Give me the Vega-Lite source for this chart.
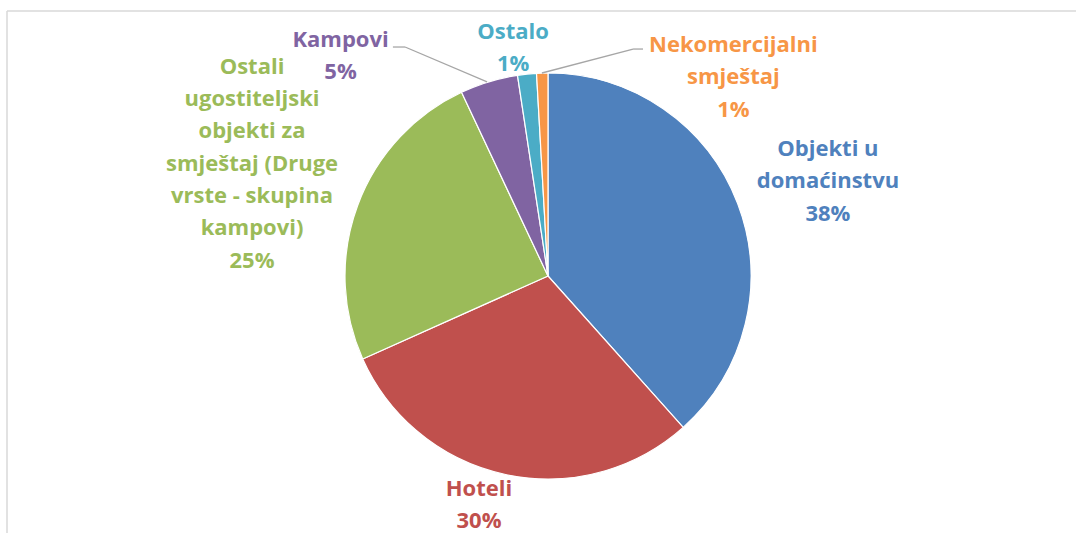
{
  "$schema": "https://vega.github.io/schema/vega-lite/v6.json",
  "width": 1076,
  "height": 533,
  "autosize": {"type": "none"},
  "padding": 0,
  "background": "white",
  "config": {"view": {"stroke": null}},
  "datasets": {
    "slices": [
      {"kategorija": "Objekti u domaćinstvu", "udio": 38.4, "ord": 1},
      {"kategorija": "Hoteli", "udio": 29.9, "ord": 2},
      {"kategorija": "Ostali ugostiteljski objekti za smještaj (Druge vrste - skupina kampovi)", "udio": 24.7, "ord": 3},
      {"kategorija": "Kampovi", "udio": 4.6, "ord": 4},
      {"kategorija": "Ostalo", "udio": 1.5, "ord": 5},
      {"kategorija": "Nekomercijalni smještaj", "udio": 0.9, "ord": 6}
    ],
    "labels": [
      {"kategorija": "Objekti u domaćinstvu", "tekst": "Objekti u\ndomaćinstvu\n38%", "lx": 1.379, "ly": 0.626},
      {"kategorija": "Hoteli", "tekst": "Hoteli\n30%", "lx": -0.340, "ly": -1.049},
      {"kategorija": "Ostali ugostiteljski objekti za smještaj (Druge vrste - skupina kampovi)", "tekst": "Ostali\nugostiteljski\nobjekti za\nsmještaj (Druge\nvrste - skupina\nkampovi)\n25%", "lx": -1.458, "ly": 1.031},
      {"kategorija": "Kampovi", "tekst": "Kampovi\n5%", "lx": -1.022, "ly": 1.163},
      {"kategorija": "Ostalo", "tekst": "Ostalo\n1%", "lx": -0.172, "ly": 1.202},
      {"kategorija": "Nekomercijalni smještaj", "tekst": "Nekomercijalni\nsmještaj\n1%", "lx": 0.913, "ly": 1.138}
    ],
    "leaders": [
      {"x1": -0.764, "y1": 1.128, "x2": -0.704, "y2": 1.128},
      {"x1": -0.704, "y1": 1.128, "x2": -0.300, "y2": 0.956},
      {"x1": 0.468, "y1": 1.118, "x2": 0.419, "y2": 1.118},
      {"x1": 0.419, "y1": 1.118, "x2": -0.030, "y2": 1.000}
    ],
    "frame": [
      {"bx1": -2.665, "by1": 1.305, "bx2": 2.601, "by2": 1.305},
      {"bx1": -2.665, "by1": 1.305, "bx2": -2.665, "by2": -1.266}
    ]
  },
  "layer": [
    {
      "data": {"name": "frame"},
      "mark": {"type": "rule", "color": "#D9D9D9", "strokeWidth": 1.5},
      "encoding": {
        "x": {"field": "bx1", "type": "quantitative", "scale": {"domain": [-2.6995, 2.6010], "nice": false, "zero": false}, "axis": null},
        "y": {"field": "by1", "type": "quantitative", "scale": {"domain": [-1.2660, 1.3596], "nice": false, "zero": false}, "axis": null},
        "x2": {"field": "bx2"},
        "y2": {"field": "by2"}
      }
    },
    {
      "data": {"name": "slices"},
      "mark": {"type": "arc", "outerRadius": 203, "stroke": "white", "strokeWidth": 1.2},
      "encoding": {
        "x": {"datum": 0, "type": "quantitative"},
        "y": {"datum": 0, "type": "quantitative"},
        "theta": {"field": "udio", "type": "quantitative", "stack": true},
        "order": {"field": "ord", "type": "quantitative"},
        "color": {
          "field": "kategorija", "type": "nominal", "legend": null,
          "scale": {
            "domain": ["Objekti u domaćinstvu", "Hoteli", "Ostali ugostiteljski objekti za smještaj (Druge vrste - skupina kampovi)", "Kampovi", "Ostalo", "Nekomercijalni smještaj"],
            "range": ["#4F81BD", "#C0504D", "#9BBB59", "#8064A2", "#4BACC6", "#F79646"]
          }
        }
      }
    },
    {
      "data": {"name": "leaders"},
      "mark": {"type": "rule", "color": "#A6A6A6", "strokeWidth": 1.3},
      "encoding": {
        "x": {"field": "x1", "type": "quantitative"},
        "y": {"field": "y1", "type": "quantitative"},
        "x2": {"field": "x2"},
        "y2": {"field": "y2"}
      }
    },
    {
      "data": {"name": "labels"},
      "mark": {"type": "text", "font": "Open Sans", "fontWeight": "bold", "fontSize": 22, "lineHeight": 32.3, "lineBreak": "\n", "align": "center", "baseline": "middle"},
      "encoding": {
        "x": {"field": "lx", "type": "quantitative"},
        "y": {"field": "ly", "type": "quantitative"},
        "text": {"field": "tekst"},
        "color": {"field": "kategorija", "type": "nominal", "legend": null}
      }
    }
  ]
}
